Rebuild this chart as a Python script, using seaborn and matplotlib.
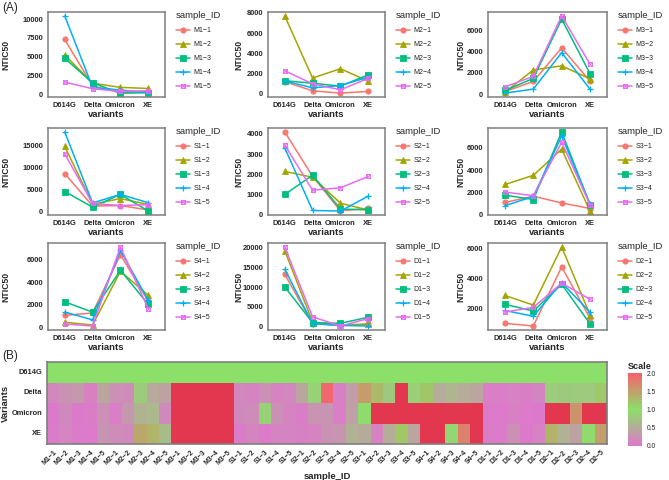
import matplotlib
matplotlib.use("Agg")
import pandas as pd
import matplotlib.pyplot as plt
from matplotlib.path import Path
from matplotlib.colors import LinearSegmentedColormap
import seaborn as sns

VARIANTS = ["D614G", "Delta", "Omicron", "XE"]
GROUPS = ["M1", "M2", "M3", "S1", "S2", "S3", "S4", "D1", "D2"]

# NTIC50 per sample: rows are <group>-1 .. <group>-5, columns follow VARIANTS
M1 = [[7300, 1100, 200, 300], [5250, 1450, 900, 750], [4800, 1500, 130, 180],
      [10450, 900, 540, 220], [1600, 720, 360, 450]]
M2 = [[1200, 300, 70, 240], [7700, 1560, 2480, 1250], [1300, 1050, 760, 1880],
      [1280, 590, 820, 1650], [2280, 990, 400, 1530]]
M3 = [[250, 1200, 4350, 1220], [190, 2280, 2660, 1450], [350, 1480, 7050, 1930],
      [100, 480, 3900, 480], [680, 1680, 7350, 2820]]
S1 = [[8650, 1250, 1350, 350], [14850, 1650, 2950, 1600], [4550, 1000, 3900, 100],
      [18150, 1950, 3900, 2000], [13150, 1850, 1350, 1550]]
S2 = [[4100, 1910, 200, 320], [2150, 1860, 580, 240], [1010, 1960, 290, 250],
      [3320, 220, 190, 930], [3460, 1220, 1340, 1900]]
S3 = [[1080, 1640, 1030, 530], [2700, 3530, 5900, 300], [1740, 1340, 7450, 880],
      [780, 1620, 7080, 930], [2020, 1680, 6520, 880]]
S4 = [[1080, 1300, 6400, 2330], [480, 240, 4950, 2850], [2270, 1370, 5040, 2040],
      [1380, 690, 6780, 2400], [330, 150, 7080, 1650]]
D1 = [[13280, 800, 260, 600], [19300, 1200, 430, 700], [10100, 1030, 860, 2410],
      [14570, 780, 340, 170], [20200, 2500, 170, 2070]]
D2 = [[980, 800, 4750, 1320], [2840, 2200, 6080, 1560], [2250, 1800, 3590, 950],
      [1840, 1450, 3700, 1730], [1730, 2050, 3660, 2590]]

YTICKS = {
    "M1": [0, 2500, 5000, 7500, 10000],
    "M2": [0, 2000, 4000, 6000, 8000],
    "M3": [0, 2000, 4000, 6000],
    "S1": [0, 5000, 10000, 15000],
    "S2": [0, 1000, 2000, 3000, 4000],
    "S3": [0, 2000, 4000, 6000],
    "S4": [0, 2000, 4000, 6000],
    "D1": [0, 5000, 10000, 15000, 20000],
    "D2": [2000, 4000, 6000],
}

# heatmap: NTIC50 relative to D614G (values above 2 saturate)
D614G_RATIO = [1.0] * 45
DELTA_RATIO = [0.15, 0.25, 0.32, 0.09, 0.45, 0.22, 0.20, 0.80, 0.48, 0.42,
               4.8, 12.0, 4.9, 4.8, 2.5, 0.15, 0.11, 0.22, 0.11, 0.15,
               0.46, 0.86, 1.93, 0.07, 0.35, 1.52, 1.30, 0.77, 2.10, 0.83,
               1.20, 0.50, 0.60, 0.50, 0.46, 0.06, 0.06, 0.10, 0.05, 0.12,
               0.82, 0.77, 0.80, 0.79, 1.18]
OMICRON_RATIO = [0.03, 0.17, 0.03, 0.05, 0.23, 0.06, 0.32, 0.58, 0.63, 0.17,
                 17.0, 14.0, 20.0, 39.0, 11.0, 0.16, 0.20, 0.86, 0.22, 0.11,
                 0.05, 0.27, 0.28, 0.06, 0.39, 0.95, 2.20, 4.30, 9.00, 3.20,
                 5.90, 10.0, 2.20, 4.90, 21.0, 0.02, 0.02, 0.09, 0.02, 0.01,
                 4.80, 2.10, 1.60, 2.05, 2.10]
XE_RATIO = [0.04, 0.14, 0.04, 0.02, 0.28, 0.21, 0.16, 1.44, 1.33, 0.67,
            4.9, 7.6, 5.5, 4.8, 4.2, 0.05, 0.13, 0.02, 0.12, 0.12,
            0.08, 0.11, 0.25, 0.28, 0.55, 0.49, 0.11, 0.50, 1.19, 0.43,
            2.20, 5.90, 0.90, 1.74, 5.00, 0.05, 0.04, 0.24, 0.01, 0.10,
            1.35, 0.55, 0.42, 0.94, 1.50]

PANEL_DATA = {"M1": M1, "M2": M2, "M3": M3, "S1": S1, "S2": S2,
              "S3": S3, "S4": S4, "D1": D1, "D2": D2}

PALETTE = ["#F8766D", "#A3A500", "#00BF7D", "#00B0F6", "#E76BF3"]
# ggplot's shape 7 (square with a cross) has no matplotlib equivalent
SQUARE_CROSS = Path(
    [(-1, -1), (1, -1), (1, 1), (-1, 1), (-1, -1), (-1, -1), (1, 1), (-1, 1), (1, -1)],
    [Path.MOVETO, Path.LINETO, Path.LINETO, Path.LINETO, Path.CLOSEPOLY,
     Path.MOVETO, Path.LINETO, Path.MOVETO, Path.LINETO],
)
MARKERS = ["o", "^", "s", "P", "s"]
DASH = "\u2212"

FRAME = "#7F7F7F"
W, H = 669, 480

sns.set_style("white")
plt.rcParams["font.family"] = ["Liberation Sans", "DejaVu Sans"]

fig = plt.figure(figsize=(W / 100, H / 100), dpi=100)


def px_axes(x0, y0, x1, y1):
    return fig.add_axes([x0 / W, 1 - y1 / H, (x1 - x0) / W, (y1 - y0) / H])


def long_frame(group, rows):
    recs = []
    for i, vals in enumerate(rows):
        for v, y in zip(VARIANTS, vals):
            recs.append({"variants": v, "NTIC50": y, "sample_ID": f"{group}{DASH}{i + 1}"})
    return pd.DataFrame(recs)


COL_X = [(48, 165), (268, 385), (488, 607)]
YLABEL_X = [10, 243, 465]  # right edge of the rotated y label, per column
ROW_Y = [(12, 97), (128, 215), (243, 330)]

for k, group in enumerate(GROUPS):
    x0, x1 = COL_X[k % 3]
    y0, y1 = ROW_Y[k // 3]
    ax = px_axes(x0, y0, x1, y1)
    df = long_frame(group, PANEL_DATA[group])
    sns.lineplot(data=df, x="variants", y="NTIC50", hue="sample_ID", style="sample_ID",
                 palette=PALETTE, markers=MARKERS, dashes=False, errorbar=None,
                 linewidth=1.1, markersize=3.8, legend=False, ax=ax)
    lines = ax.lines[:5]
    for line, col in zip(lines, PALETTE):
        line.set_markeredgecolor(col)
        line.set_markeredgewidth(0.6)
    lines[3].set_marker("+")
    lines[3].set_markeredgewidth(0.9)
    lines[3].set_markersize(4.8)
    lines[4].set_marker(SQUARE_CROSS)
    lines[4].set_markerfacecolor("none")
    lines[4].set_markersize(2.8)

    ax.set_xlim(-0.6, 3.6)
    ax.set_yticks(YTICKS[group])
    ax.margins(y=0.05)
    ax.set_xticks(range(4))
    ax.set_xticklabels(VARIANTS)
    ax.tick_params(length=2, width=0.6, color="#333333", pad=1.5, labelsize=5.4)
    for lab in ax.get_xticklabels() + ax.get_yticklabels():
        lab.set_fontweight("bold")
    for s in ax.spines.values():
        s.set_visible(True)
        s.set_color(FRAME)
        s.set_linewidth(1.1)

    ax.set_xlabel("variants", fontsize=6.8, fontweight="bold")
    ax.set_ylabel("NTIC50", fontsize=6.2, fontweight="bold")
    ax.xaxis.set_label_coords(0.5, -13 / (y1 - y0))
    ax.yaxis.set_label_coords((YLABEL_X[k % 3] - x0) / (x1 - x0), 0.5)

    leg = ax.legend(lines, [f"{group}{DASH}{i}" for i in range(1, 6)], title="sample_ID",
                    loc="upper left", bbox_to_anchor=(1 + 8 / (x1 - x0), 1.04),
                    frameon=False, fontsize=5.0, title_fontsize=6.8, handlelength=2.0,
                    labelspacing=1.0, borderaxespad=0, handletextpad=0.6)
    leg._legend_box.align = "left"

fig.text(2 / W, 1 - 2 / H, "(A)", fontsize=8.5, va="top", ha="left")
fig.text(2 / W, 1 - 350 / H, "(B)", fontsize=8.5, va="top", ha="left")

# heatmap
sample_ids = [f"{g}{DASH}{i}" for g in GROUPS for i in range(1, 6)]
hm = pd.DataFrame([D614G_RATIO, DELTA_RATIO, OMICRON_RATIO, XE_RATIO],
                  index=VARIANTS, columns=sample_ids)

cmap = LinearSegmentedColormap.from_list("scale", ["#DE78CC", "#8CE068", "#F7606E"])
cmap.set_over("#E2374F")

hax = px_axes(47, 362, 607, 444)
cax = px_axes(628, 373, 642, 446)
sns.heatmap(hm, ax=hax, cmap=cmap, vmin=0, vmax=2, cbar_ax=cax,
            xticklabels=True, yticklabels=True,
            cbar_kws={"ticks": [0, 0.5, 1.0, 1.5, 2.0]})
for s in hax.spines.values():
    s.set_visible(True)
    s.set_color(FRAME)
    s.set_linewidth(1.2)
hax.tick_params(length=2, width=0.6, color="#333333", pad=1.5)
hax.set_xticklabels(sample_ids, rotation=45, ha="right", rotation_mode="anchor",
                    fontsize=5.0, fontweight="bold")
hax.set_yticklabels(VARIANTS, rotation=0, fontsize=5.4, fontweight="bold")
hax.set_xlabel("sample_ID", fontsize=6.8, fontweight="bold")
hax.set_ylabel("Variants", fontsize=6.8, fontweight="bold")
hax.yaxis.set_label_coords((10 - 47) / 560, 0.5)

cb = hax.collections[0].colorbar
cb.outline.set_visible(False)
cb.ax.tick_params(length=2, color="white", width=0.6, labelsize=4.8, pad=1.5)
cb.ax.set_yticklabels([f"{t:.1f}" for t in [0, 0.5, 1.0, 1.5, 2.0]])
cax.set_title("Scale", fontsize=6.6, fontweight="bold", loc="left", pad=3)

fig.savefig("out.png", dpi=100)
